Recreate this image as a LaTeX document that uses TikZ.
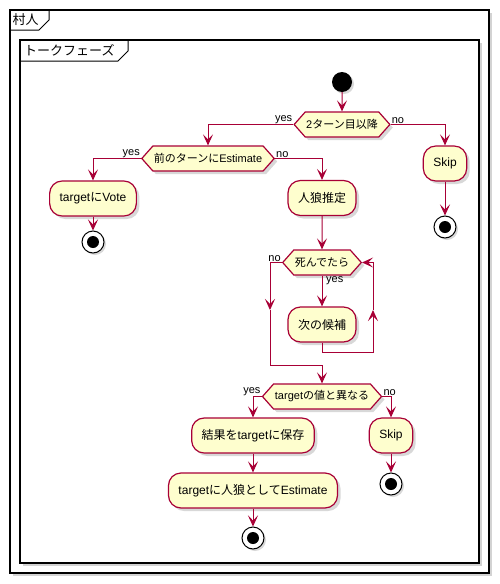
\documentclass[tikz,border=0pt]{standalone}
\usepackage{fontspec}
\setmainfont{Liberation Sans}
\newfontfamily\jp{Noto Sans CJK JP}
\usetikzlibrary{arrows.meta,shapes.symbols,shadows}
\definecolor{ume}{HTML}{A80036}
\definecolor{cream}{HTML}{FEFECE}
\begin{document}
\begin{tikzpicture}[x=1pt,y=-1pt,
    frame/.style={draw=black,line width=1.5pt,fill=white,
      drop shadow={shadow xshift=3pt,shadow yshift=-3pt,opacity=.35}},
    tab/.style={draw=black,line width=1pt},
    ttl/.style={inner sep=0pt,font=\fontsize{13}{15}\selectfont},
    act/.style={rectangle,rounded corners=12.5pt,draw=ume,fill=cream,line width=1.2pt,
      minimum height=35pt,inner xsep=10pt,font=\fontsize{12}{14}\selectfont,
      drop shadow={shadow xshift=3pt,shadow yshift=-3pt,opacity=.3}},
    dec/.style={signal,signal to=east and west,signal pointer angle=97,draw=ume,fill=cream,
      line width=1.2pt,minimum height=25pt,inner xsep=1pt,font=\fontsize{11}{13}\selectfont,
      drop shadow={shadow xshift=3pt,shadow yshift=-3pt,opacity=.3}},
    startpt/.style={circle,fill=black,minimum size=20pt,inner sep=0pt,
      drop shadow={shadow xshift=2pt,shadow yshift=-2pt,opacity=.3}},
    endpt/.style={circle,draw=black,fill=white,line width=1pt,minimum size=22pt,inner sep=0pt,
      path picture={\fill[black] (path picture bounding box.center) circle (6pt);},
      drop shadow={shadow xshift=2pt,shadow yshift=-2pt,opacity=.3}},
    lbl/.style={inner sep=1pt,font=\fontsize{11}{13}\selectfont},
    flow/.style={draw=ume,line width=1pt,-{Stealth[length=11pt,width=10pt,inset=5pt]}}]
  \useasboundingbox (0,0) rectangle (499,584);
  % 外枠
  \draw[frame] (10,10) rectangle (489,573);
  \draw[tab] (10,30) -- (39,30) -- (49,20) -- (49,10);
  \node[ttl,anchor=west] (t1) at (12.5,20) {\jp 村人};
  \draw[frame] (20,40) rectangle (479,563);
  \draw[tab] (20,61) -- (118,61) -- (128,51) -- (128,40);
  \node[ttl,anchor=west] (t2) at (24,50.5) {\jp トークフェーズ};
  % 節点
  \node[startpt] (st) at (342,82) {};
  \node[dec,minimum width=95pt] (d1) at (342,124.5) {2{\jp ターン目以降}};
  \node[act] (sk1) at (445,163.5) {Skip};
  \node[endpt] (e1) at (445,227) {};
  \node[dec,minimum width=132pt] (d2) at (208,158.5) {{\jp 前のターンに}Estimate};
  \node[act] (vote) at (93,198.5) {target{\jp に}Vote};
  \node[endpt] (e2) at (93,242) {};
  \node[act] (est) at (322,198) {\jp 人狼推定};
  \node[dec,minimum width=78pt] (d3) at (322,262.5) {\jp 死んでたら};
  \node[act] (nxt) at (322,324.5) {\jp 次の候補};
  \node[dec,minimum width=119pt] (d4) at (322,396.5) {target{\jp の値と異なる}};
  \node[act] (save) at (253,435.5) {{\jp 結果を}target{\jp に保存}};
  \node[act] (sk2) at (391,435.5) {Skip};
  \node[endpt] (e3) at (391,484) {};
  \node[act] (estw) at (253,490.5) {target{\jp に人狼として}Estimate};
  \node[endpt] (e4) at (253,538) {};
  % 分岐ラベル
  \node[lbl,anchor=south east] (y1) at (d1.west) {yes};
  \node[lbl,anchor=south west] (n1) at (d1.east) {no};
  \node[lbl,anchor=south east] (y2) at (d2.west) {yes};
  \node[lbl,anchor=south west] (n2) at (d2.east) {no};
  \node[lbl,anchor=south east] (n3) at (d3.west) {no};
  \node[lbl,anchor=north west] (y3) at ([xshift=3pt]d3.south) {yes};
  \node[lbl,anchor=south east] (y4) at (d4.west) {yes};
  \node[lbl,anchor=south west] (n4) at (d4.east) {no};
  % 矢印
  \coordinate (nomid) at (270,310);
  \coordinate (nobot) at (270,365);
  \coordinate (lpmid) at (373,310);
  \draw[flow] (st) -- (d1);
  \draw[flow] (d1.west) -| (d2.north);
  \draw[flow] (d1.east) -| (sk1.north);
  \draw[flow] (sk1) -- (e1);
  \draw[flow] (d2.west) -| (vote.north);
  \draw[flow] (vote) -- (e2);
  \draw[flow] (d2.east) -| (est.north);
  \draw[flow] (est) -- (d3);
  \draw[flow] (d3.south) -- (nxt.north);
  \draw[flow] (d3.west) -| (nomid);
  \draw[flow] (nomid) -- (nobot) -| (d4.north);
  \draw[flow] (nxt.south) -- ++(0,10) -| (lpmid);
  \draw[flow] (lpmid) |- (d3.east);
  \draw[flow] (d4.west) -| (save.north);
  \draw[flow] (d4.east) -| (sk2.north);
  \draw[flow] (sk2) -- (e3);
  \draw[flow] (save) -- (estw);
  \draw[flow] (estw) -- (e4);
\end{tikzpicture}
\end{document}
